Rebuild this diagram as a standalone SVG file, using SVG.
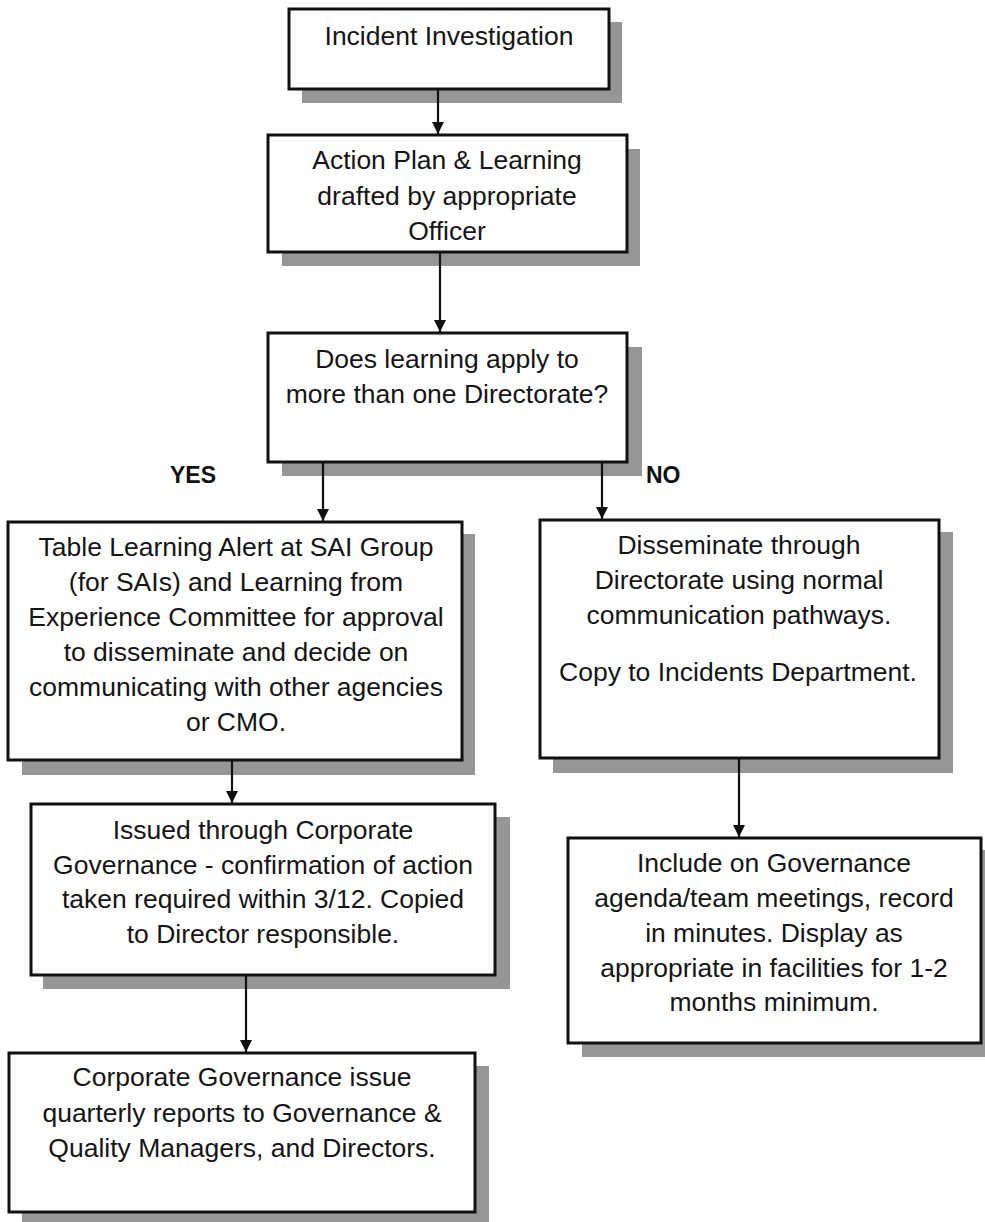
<svg xmlns="http://www.w3.org/2000/svg" width="985" height="1222" viewBox="0 0 985 1222">
  <style>
    .box { fill: #ffffff; stroke: #111111; stroke-width: 3; }
    .shadow { fill: #969696; stroke: none; }
    .t { font-family: "Liberation Sans", Arial, sans-serif; font-size: 26.5px; fill: #151515; text-anchor: middle; }
    .lbl { font-family: "Liberation Sans", Arial, sans-serif; font-size: 23px; font-weight: bold; fill: #111111; }
    .conn { stroke: #111111; stroke-width: 2.2; fill: none; marker-end: url(#arrow); }
  </style>
  <defs>
    <marker id="arrow" markerUnits="userSpaceOnUse" markerWidth="14" markerHeight="14" refX="12" refY="6" orient="auto">
      <path d="M0,0 L12,6 L0,12 Z" fill="#111111"/>
    </marker>
  </defs>
  <rect width="985" height="1222" fill="#ffffff"/>

  <!-- branch labels -->
  <text class="lbl" x="170" y="483">YES</text>
  <text class="lbl" x="646" y="483">NO</text>

  <g id="incident-investigation">
    <rect class="shadow" x="302" y="22" width="320" height="81"/>
    <rect class="box" x="289" y="9" width="320" height="80"/>
    <text class="t" x="449" y="45">Incident Investigation</text>
  </g>

  <g id="action-plan">
    <rect class="shadow" x="282" y="149" width="358" height="117"/>
    <rect class="box" x="268" y="135" width="359" height="117"/>
    <text class="t" x="447" y="169">Action Plan &amp; Learning</text>
    <text class="t" x="447" y="205">drafted by appropriate</text>
    <text class="t" x="447" y="240">Officer</text>
  </g>

  <g id="decision">
    <rect class="shadow" x="282" y="347" width="360" height="129"/>
    <rect class="box" x="268" y="333" width="359" height="129"/>
    <text class="t" x="447" y="368">Does learning apply to</text>
    <text class="t" x="447" y="403">more than one Directorate?</text>
  </g>

  <g id="learning-alert">
    <rect class="shadow" x="22" y="534" width="453" height="241"/>
    <rect class="box" x="8" y="522" width="454" height="238"/>
    <text class="t" x="236" y="556">Table Learning Alert at SAI Group</text>
    <text class="t" x="236" y="591">(for SAIs) and Learning from</text>
    <text class="t" x="236" y="626">Experience Committee for approval</text>
    <text class="t" x="236" y="661">to disseminate and decide on</text>
    <text class="t" x="236" y="696">communicating with other agencies</text>
    <text class="t" x="236" y="731">or CMO.</text>
  </g>

  <g id="disseminate-directorate">
    <rect class="shadow" x="553" y="532" width="400" height="241"/>
    <rect class="box" x="540" y="520" width="399" height="238"/>
    <text class="t" x="739" y="554">Disseminate through</text>
    <text class="t" x="739" y="589">Directorate using normal</text>
    <text class="t" x="739" y="624">communication pathways.</text>
    <text class="t" x="738" y="681">Copy to Incidents Department.</text>
  </g>

  <g id="corporate-issue">
    <rect class="shadow" x="43" y="817" width="467" height="172"/>
    <rect class="box" x="31" y="804" width="464" height="171"/>
    <text class="t" x="263" y="839">Issued through Corporate</text>
    <text class="t" x="263" y="874">Governance - confirmation of action</text>
    <text class="t" x="263" y="908">taken required within 3/12. Copied</text>
    <text class="t" x="263" y="943">to Director responsible.</text>
  </g>

  <g id="governance-agenda">
    <rect class="shadow" x="582" y="850" width="413" height="207"/>
    <rect class="box" x="568" y="838" width="413" height="205"/>
    <text class="t" x="774" y="872">Include on Governance</text>
    <text class="t" x="774" y="907">agenda/team meetings, record</text>
    <text class="t" x="774" y="942">in minutes. Display as</text>
    <text class="t" x="774" y="977">appropriate in facilities for 1-2</text>
    <text class="t" x="774" y="1011">months minimum.</text>
  </g>

  <g id="quarterly-reports">
    <rect class="shadow" x="22" y="1066" width="467" height="160"/>
    <rect class="box" x="9" y="1053" width="466" height="159"/>
    <text class="t" x="242" y="1086">Corporate Governance issue</text>
    <text class="t" x="242" y="1122">quarterly reports to Governance &amp;</text>
    <text class="t" x="242" y="1157">Quality Managers, and Directors.</text>
  </g>

  <!-- connectors, drawn over the drop shadows -->
  <g id="connectors">
    <line class="conn" x1="438" y1="90" x2="438" y2="134"/>
    <line class="conn" x1="440" y1="253" x2="440" y2="332"/>
    <line class="conn" x1="323" y1="463" x2="323" y2="521"/>
    <line class="conn" x1="602" y1="463" x2="602" y2="519"/>
    <line class="conn" x1="232" y1="761" x2="232" y2="803"/>
    <line class="conn" x1="739" y1="759" x2="739" y2="837"/>
    <line class="conn" x1="246" y1="976" x2="246" y2="1052"/>
  </g>
</svg>
